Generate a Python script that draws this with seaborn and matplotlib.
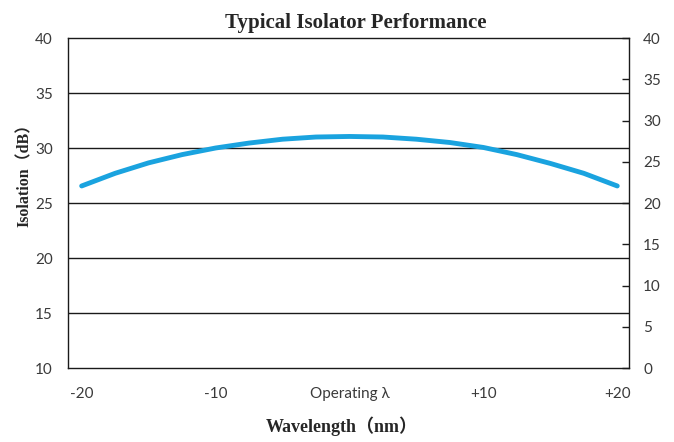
import matplotlib
matplotlib.use("Agg")
import matplotlib.pyplot as plt
import seaborn as sns
import pandas as pd

# ---- data ----
wavelength_offset = [-20, -17.5, -15, -12.5, -10, -7.5, -5, -2.5, 0,
                     2.5, 5, 7.5, 10, 12.5, 15, 17.5, 20]
isolation_db = [26.55, 27.7, 28.65, 29.4, 30.0, 30.45, 30.8, 31.0, 31.05,
                31.0, 30.8, 30.5, 30.05, 29.4, 28.6, 27.7, 26.55]
x_tick_values = [-20, -10, 0, 10, 20]
x_tick_labels = ["-20", "-10", "Operating λ", "+10", "+20"]
left_ticks = [10, 15, 20, 25, 30, 35, 40]
right_ticks = [0, 5, 10, 15, 20, 25, 30, 35, 40]

title = "Typical Isolator Performance"
xlabel = "Wavelength（nm）"
ylabel = "Isolation（dB）"

sns.set_style("white")
plt.rcParams["font.family"] = ["Lato", "DejaVu Sans"]

fig = plt.figure(figsize=(6.74, 4.42), dpi=100)
ax = fig.add_axes([0.1013, 0.1674, 0.8324, 0.7466])

df = pd.DataFrame({"offset": wavelength_offset, "isolation": isolation_db})
sns.lineplot(data=df, x="offset", y="isolation", ax=ax, color="#1AA3DF",
             linewidth=3.5, solid_capstyle="round", zorder=3)

ax.set_xlim(-21, 20.9)
ax.set_ylim(10, 40)

# gridlines at left ticks
for v in left_ticks[1:-1]:
    ax.axhline(v, color="#1a1a1a", linewidth=1.0, zorder=1)

for s in ax.spines.values():
    s.set_color("#1a1a1a")
    s.set_linewidth(1.0)
    s.set_visible(True)

# y left
ax.set_yticks(left_ticks)
ax.set_yticklabels([str(v) for v in left_ticks])
ax.tick_params(axis="y", which="major", length=0, pad=11, labelsize=11,
               labelcolor="#3a3a3a")

# x: major tick marks between labels, labels on minor ticks
ax.set_xticks([v - 1 for v in x_tick_values])
ax.set_xticklabels([])
ax.tick_params(axis="x", which="major", direction="in", length=5,
               width=1.0, color="#1a1a1a")
ax.set_xticks(x_tick_values, minor=True)
ax.set_xticklabels(x_tick_labels, minor=True)
ax.tick_params(axis="x", which="minor", length=0, pad=14, labelsize=11,
               labelcolor="#3a3a3a")

ax.set_xlabel(xlabel, family=["Liberation Serif", "Noto Sans CJK SC"],
              fontweight="bold", fontsize=13)
ax.xaxis.set_label_coords(0.487, -0.146)
ax.set_ylabel(ylabel, family=["Liberation Serif", "Noto Sans CJK SC"],
              fontweight="bold", fontsize=11.5)
ax.yaxis.set_label_coords(-0.063, 0.595)

ax.set_title(title, family="Liberation Serif", fontweight="bold",
             fontsize=15, pad=7, x=0.513)

# right axis
ax2 = ax.twinx()
ax2.set_ylim(0, 40)
ax2.set_yticks(right_ticks)
ax2.set_yticklabels([str(v) for v in right_ticks])
ax2.tick_params(axis="y", direction="in", length=5, width=1.0,
                color="#1a1a1a", pad=10, labelsize=11, labelcolor="#3a3a3a")
for s in ax2.spines.values():
    s.set_visible(False)

fig.savefig("out.png", dpi=100)
